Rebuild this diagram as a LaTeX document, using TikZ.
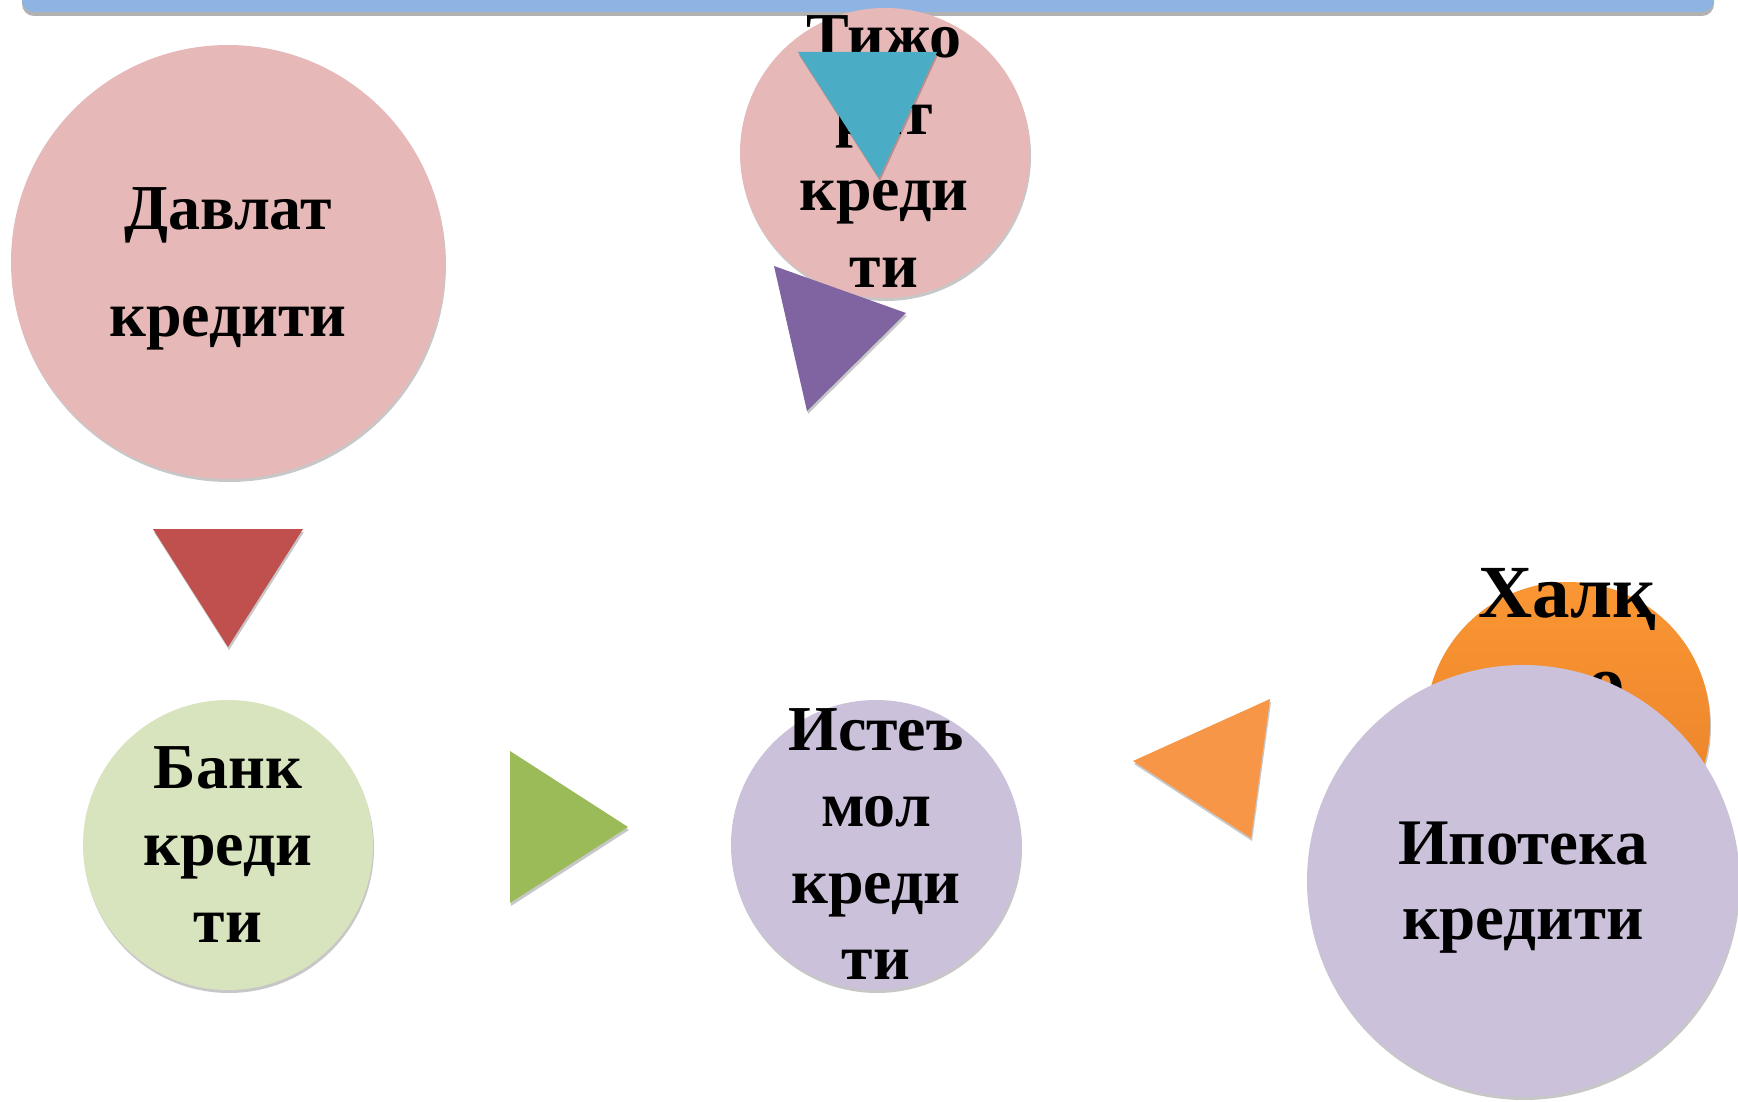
\documentclass[tikz,border=0pt]{standalone}
\usepackage{fontspec}
\setmainfont{Liberation Serif}
\usetikzlibrary{shadows}
\definecolor{barblue}{HTML}{8EB4E3}
\definecolor{pinkc}{HTML}{E6B9B8}
\definecolor{greenc}{HTML}{D7E4BD}
\definecolor{lilac}{HTML}{CCC1DA}
\definecolor{orangetop}{HTML}{FB9634}
\definecolor{orangebot}{HTML}{E57F28}
\definecolor{tred}{HTML}{C0504D}
\definecolor{tgreen}{HTML}{9BBB59}
\definecolor{torange}{HTML}{F79646}
\definecolor{tcyan}{HTML}{4BACC6}
\definecolor{tpurple}{HTML}{8064A2}
\setlength\tabcolsep{0pt}
\begin{document}
\begin{tikzpicture}[x=1pt,y=-1pt,
  shade/.style={drop shadow={shadow xshift=1pt,shadow yshift=-3pt,opacity=0.22,fill=black}},
  bubble/.style={circle,inner sep=0pt,draw=none,shade},
  lbl/.style={anchor=base,inner sep=0pt,font=\bfseries},
  tri/.style={draw=none,shade}]
\useasboundingbox (0,0) rectangle (1738,1102);
% top bar
\fill[barblue,rounded corners=12pt,drop shadow={shadow xshift=0pt,shadow yshift=-4pt,opacity=0.3,fill=black}]
  (22,-30) rectangle (1714,12);
% Davlat
\node[bubble,fill=pinkc,minimum size=434pt] (davlat) at (228,262) {};
\node[lbl] (tdavlat) at (228,230) {\fontsize{64}{107}\selectfont\begin{tabular}[t]{c}Давлат\\кредити\end{tabular}};
% Tijorat
\node[bubble,fill=pinkc,minimum size=290pt] (tijorat) at (885,153) {};
\node[lbl] (ttijorat) at (884,58) {\fontsize{64}{76.5}\selectfont\begin{tabular}[t]{c}Тижо\\рат\\креди\\ти\end{tabular}};
\fill[tcyan,tri] (798,52) -- (937,52) -- (879,178) -- cycle;
\fill[tpurple,tri] (774,266) -- (906,313) -- (807,411) -- cycle;
% red arrow
\fill[tred,tri] (153,529) -- (303,529) -- (228,647) -- cycle;
% Bank
\node[bubble,fill=greenc,minimum size=290pt] (bank) at (228,845) {};
\node[lbl] (tbank) at (228,788) {\fontsize{64}{77}\selectfont\begin{tabular}[t]{c}Банк\\креди\\ти\end{tabular}};
% green arrow
\fill[tgreen,tri] (510,751) -- (628,827) -- (510,903) -- cycle;
% Isteъmol
\node[bubble,fill=lilac,minimum size=290pt] (istemol) at (876,845) {};
\node[lbl] (tistemol) at (876,750) {\fontsize{64}{76.5}\selectfont\begin{tabular}[t]{c}Истеъ\\мол\\креди\\ти\end{tabular}};
% orange arrow
\fill[torange,tri] (1270,699) -- (1251,838) -- (1133,761) -- cycle;
% Halqaro
\node[bubble,top color=orangetop,bottom color=orangebot,minimum size=284pt] (halq) at (1568,724) {};
\node[lbl] (thalq) at (1567,617) {\fontsize{75}{90}\selectfont\begin{tabular}[t]{c}Халқ\\аро\end{tabular}};
% Ipoteka
\node[bubble,fill=lilac,minimum size=432pt] (ipoteka) at (1523,881) {};
\node[lbl] (tipoteka) at (1523,864) {\fontsize{65}{75}\selectfont\begin{tabular}[t]{c}Ипотека\\кредити\end{tabular}};
\end{tikzpicture}
\end{document}
